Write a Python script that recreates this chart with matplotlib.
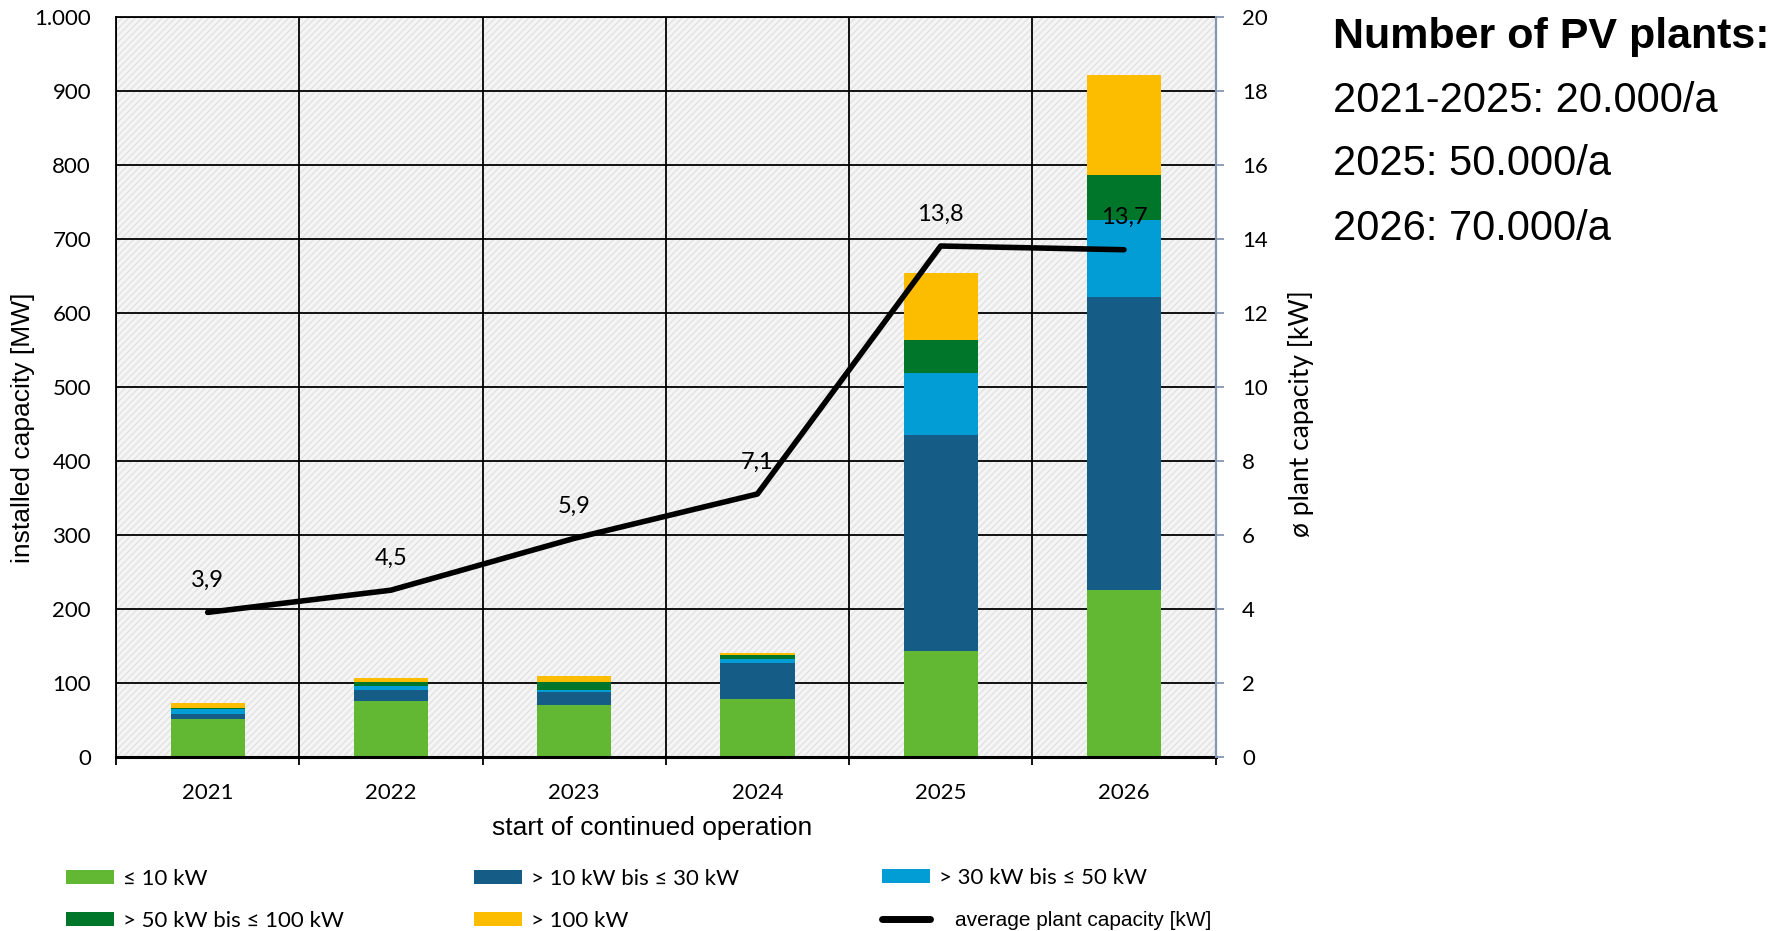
import matplotlib
matplotlib.use('Agg')
import matplotlib.pyplot as plt
from matplotlib.patches import Patch, Rectangle
from matplotlib.lines import Line2D
from matplotlib.ticker import FuncFormatter, MultipleLocator

plt.rcParams['font.family'] = ['Lato', 'DejaVu Sans']
plt.rcParams['hatch.linewidth'] = 1.0

# installed capacity per year and plant size class [MW]
years = ['2021', '2022', '2023', '2024', '2025', '2026']
cap_le10 = [51, 75, 70, 77.5, 143, 225.5]
cap_10_30 = [7, 15, 18, 49.5, 291, 396]
cap_30_50 = [6.5, 5.5, 2.5, 5.5, 85, 103.5]
cap_50_100 = [1.5, 5.5, 10.5, 4.5, 44.5, 60.5]
cap_gt100 = [6, 5.5, 8, 3.5, 90, 135]
# average plant capacity [kW]
avg_cap = [3.9, 4.5, 5.9, 7.1, 13.8, 13.7]

series = [cap_le10, cap_10_30, cap_30_50, cap_50_100, cap_gt100]
labels = ['≤ 10 kW', '> 10 kW bis ≤ 30 kW', '> 30 kW bis ≤ 50 kW',
          '> 50 kW bis ≤ 100 kW', '> 100 kW']
colors = ['#62b832', '#155c86', '#019dd4', '#00762a', '#fcbd00']

fig = plt.figure(figsize=(17.85, 9.31), dpi=100)
ax = fig.add_axes([0.065, 0.1872, 0.616, 0.795])

# striped grey background
ax.add_patch(Rectangle((0, 0), 1, 1, transform=ax.transAxes, facecolor='#f5f5f5',
                       edgecolor='#e2e2e2', hatch='/////', lw=0, zorder=0))

x = list(range(len(years)))
bottom = [0] * len(years)
for vals, col in zip(series, colors):
    ax.bar(x, vals, width=0.405, bottom=bottom, color=col, zorder=2)
    bottom = [b + v for b, v in zip(bottom, vals)]

ax.set_xlim(-0.5, 5.5)
ax.set_ylim(0, 1000)
ax.yaxis.set_major_locator(MultipleLocator(100))
ax.yaxis.set_major_formatter(FuncFormatter(lambda v, p: f'{int(v):,}'.replace(',', '.')))
ax.set_xticks(x)
ax.set_xticklabels(years)
ax.set_xticks([i - 0.5 for i in range(len(years) + 1)], minor=True)

ax.set_axisbelow(True)
ax.yaxis.grid(True, color='black', lw=1.3, zorder=1)
ax.xaxis.grid(True, which='minor', color='black', lw=1.3, zorder=1)
ax.tick_params(axis='y', length=0, pad=18, labelsize=16)
ax.tick_params(axis='x', which='major', length=0, pad=19, labelsize=16)
ax.tick_params(axis='x', which='minor', length=6, width=1.3, color='black')

for s in ['left', 'top']:
    ax.spines[s].set_linewidth(1.3)
ax.spines['bottom'].set_linewidth(2.2)
ax.spines['right'].set_visible(False)

ax.set_ylabel('installed capacity [MW]', fontsize=19, family='Liberation Sans')
ax.yaxis.set_label_coords(-0.074, 0.444)
ax.set_xlabel('start of continued operation', fontsize=19, family='Liberation Sans')
ax.xaxis.set_label_coords(0.488, -0.096)
ax.xaxis.label.set_va('center')

# average plant capacity on secondary axis
ax2 = ax.twinx()
ax2.plot(x, avg_cap, color='black', lw=4, solid_capstyle='round',
         solid_joinstyle='round')
for xi, v in zip(x, avg_cap):
    ax2.annotate(f'{v:.1f}'.replace('.', ','), (xi, v), xytext=(0, 23),
                 textcoords='offset points', ha='center', va='center', fontsize=17)
ax2.set_ylim(0, 20)
ax2.yaxis.set_major_locator(MultipleLocator(2))
ax2.tick_params(axis='y', length=6, width=1.3, color='#8497b0', pad=13, labelsize=16)
for s in ['left', 'top', 'bottom']:
    ax2.spines[s].set_visible(False)
ax2.spines['right'].set_color('#8497b0')
ax2.spines['right'].set_linewidth(1.6)
ax2.set_ylabel('ø plant capacity [kW]', fontsize=19)
ax2.yaxis.set_label_coords(1.066, 0.463)

# legend in three columns below the chart
handles = [Patch(facecolor=c) for c in colors]
leg_kw = dict(frameon=False, fontsize=16, handlelength=2.16, handleheight=0.63,
              handletextpad=0.4, labelspacing=1.0, borderpad=0, borderaxespad=0)
fig.legend([handles[0], handles[3]], [labels[0], labels[3]], loc='center left',
           bbox_to_anchor=(0.037, 0.0335), **leg_kw)
fig.legend([handles[1], handles[4]], [labels[1], labels[4]], loc='center left',
           bbox_to_anchor=(0.2655, 0.0335), **leg_kw)
fig.legend([handles[2]], [labels[2]], loc='center left',
           bbox_to_anchor=(0.494, 0.0570), **leg_kw)
avg_handle = Line2D([0], [0], color='black', lw=5, solid_capstyle='round')
fig.legend([avg_handle], ['average plant capacity [kW]'], loc='center left',
           bbox_to_anchor=(0.494, 0.0110), frameon=False,
           prop={'family': 'Liberation Sans', 'size': 15},
           handlelength=2.3, handletextpad=1.2, borderpad=0, borderaxespad=0)

# plant numbers next to the chart
fig.text(0.747, 0.948, 'Number of PV plants:', fontsize=31, fontweight='bold',
         family='Liberation Sans', va='baseline')
notes = ['2021-2025: 20.000/a', '2025: 50.000/a', '2026: 70.000/a']
for txt, yy in zip(notes, [0.880, 0.812, 0.742]):
    fig.text(0.747, yy, txt, fontsize=30, family='Liberation Sans', va='baseline')

fig.savefig('out.png', dpi=100, facecolor='white')
